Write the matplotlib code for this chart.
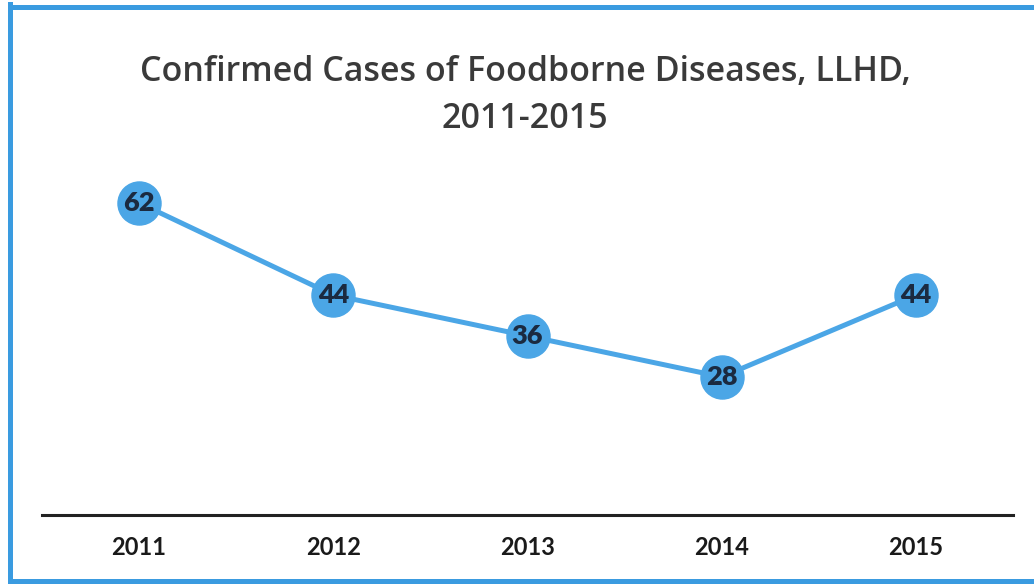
import matplotlib.pyplot as plt
from matplotlib.lines import Line2D

# Confirmed foodborne disease cases per year
years = ['2011', '2012', '2013', '2014', '2015']
cases = [62, 44, 36, 28, 44]

line_color = '#4ba6e6'
frame_color = '#3a9be0'

fig = plt.figure(figsize=(10.34, 5.84), dpi=100)
fig.patch.set_facecolor('white')

# blue frame: left, top and bottom edges (the right edge runs off the page)
W, H = 1034, 584
for xs, ys in [((10, 10), (4, 581)), ((10, W), (7, 7)), ((10, W), (581, 581))]:
    fig.add_artist(Line2D([px / W for px in xs], [1 - py / H for py in ys],
                          transform=fig.transFigure, color=frame_color, linewidth=3.6))

ax = fig.add_axes([42 / W, 1 - 515 / H, 971 / W, 353 / H])
x = range(len(years))
ax.plot(x, cases, color=line_color, linewidth=3.6, marker='o',
        markersize=31, markerfacecolor=line_color, markeredgecolor=line_color,
        zorder=3)

for xi, v in zip(x, cases):
    ax.text(xi, v, str(v), ha='center', va='center', fontsize=19.5,
            fontweight='heavy', color='#1b2a40', family='Lato', zorder=4)

ax.set_xlim(-0.5, len(years) - 0.5)
ax.set_ylim(1, 70)
ax.set_xticks(list(x))
ax.set_xticklabels(years, fontsize=17, fontweight='bold', family='Lato', color='#1a1a1a')
ax.tick_params(axis='x', length=0, pad=15)
ax.set_yticks([])

for side in ['top', 'left', 'right']:
    ax.spines[side].set_visible(False)
ax.spines['bottom'].set_color('#222222')
ax.spines['bottom'].set_linewidth(2.2)

fig.text(525 / W, 1 - 72 / H, 'Confirmed Cases of Foodborne Diseases, LLHD,',
         ha='center', va='center', fontsize=24.5, fontweight='semibold',
         family='Open Sans', color='#3a3a3a')
fig.text(525 / W, 1 - 119 / H, '2011-2015',
         ha='center', va='center', fontsize=24.5, fontweight='semibold',
         family='Open Sans', color='#3a3a3a')

fig.savefig('out.png', dpi=100, facecolor='white')
